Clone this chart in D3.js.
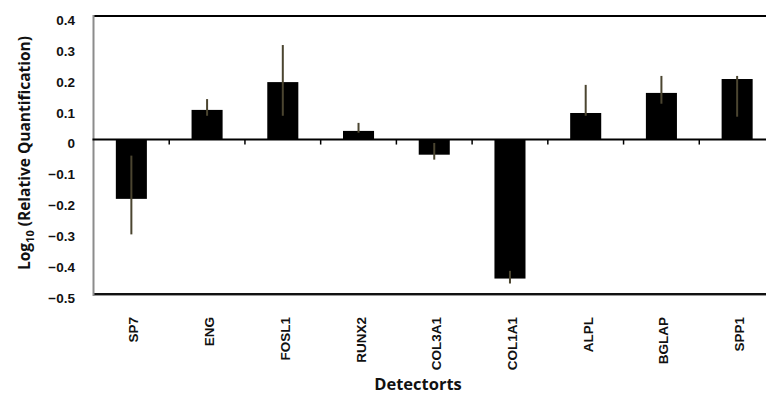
<!DOCTYPE html>
<html>
<head>
<meta charset="utf-8">
<script src="https://cdn.jsdelivr.net/npm/d3@7"></script>
<style>
  body { margin: 0; background: #fff; }
  svg { display: block; }
</style>
</head>
<body>
<div id="chart"></div>
<script>
// detector genes and log10 relative quantification
const genes = ["SP7", "ENG", "FOSL1", "RUNX2", "COL3A1", "COL1A1", "ALPL", "BGLAP", "SPP1"];
const values = [-0.192, 0.096, 0.186, 0.028, -0.049, -0.450, 0.086, 0.151, 0.196];
const errHigh = [-0.052, 0.131, 0.306, 0.054, -0.011, -0.425, 0.177, 0.206, 0.206];
const errLow = [-0.307, 0.077, 0.077, 0.022, -0.065, -0.466, 0.077, 0.116, 0.074];
const yTicks = [0.4, 0.3, 0.2, 0.1, 0, -0.1, -0.2, -0.3, -0.4, -0.5];

const width = 766, height = 396;
const plotLeft = 93.5, plotRight = 775, plotTop = 16, plotBottom = 294;

const svg = d3.select("#chart").append("svg")
  .attr("width", width)
  .attr("height", height);

const x = d3.scaleBand()
  .domain(genes)
  .range([plotLeft, plotRight])
  .paddingInner(0.59)
  .paddingOuter(0.295);

const y = d3.scaleLinear()
  .domain([-0.5, 0.4])
  .range([plotBottom, plotTop]);

// frame: top + bottom lines, gray left axis
svg.append("line")
  .attr("x1", plotLeft).attr("x2", width)
  .attr("y1", plotTop).attr("y2", plotTop)
  .attr("stroke", "#000").attr("stroke-width", 2);
svg.append("line")
  .attr("x1", plotLeft).attr("x2", width)
  .attr("y1", plotBottom + 1.5).attr("y2", plotBottom + 1.5)
  .attr("stroke", "#999").attr("stroke-width", 1);
svg.append("line")
  .attr("x1", plotLeft).attr("x2", width)
  .attr("y1", plotBottom).attr("y2", plotBottom)
  .attr("stroke", "#111").attr("stroke-width", 2);
svg.append("line")
  .attr("x1", plotLeft).attr("x2", plotLeft)
  .attr("y1", plotTop - 1).attr("y2", plotBottom + 2)
  .attr("stroke", "#8c8c8c").attr("stroke-width", 2);

// bars
svg.selectAll("rect.bar")
  .data(genes)
  .enter()
  .append("rect")
  .attr("class", "bar")
  .attr("x", d => x(d))
  .attr("width", x.bandwidth())
  .attr("y", (d, i) => y(Math.max(0, values[i])))
  .attr("height", (d, i) => Math.abs(y(values[i]) - y(0)))
  .attr("fill", "#000");

// error bars
svg.selectAll("line.err")
  .data(genes)
  .enter()
  .append("line")
  .attr("class", "err")
  .attr("x1", d => x(d) + x.bandwidth() / 2)
  .attr("x2", d => x(d) + x.bandwidth() / 2)
  .attr("y1", (d, i) => y(errHigh[i]))
  .attr("y2", (d, i) => y(errLow[i]))
  .attr("stroke", "#4b4530")
  .attr("stroke-width", 2);

// zero line with category ticks
svg.append("line")
  .attr("x1", plotLeft - 1).attr("x2", width)
  .attr("y1", y(0)).attr("y2", y(0))
  .attr("stroke", "#000").attr("stroke-width", 2);

const step = x.step();
svg.selectAll("line.tick")
  .data(genes.slice(1))
  .enter()
  .append("line")
  .attr("class", "tick")
  .attr("x1", d => x(d) - step * 0.295)
  .attr("x2", d => x(d) - step * 0.295)
  .attr("y1", y(0))
  .attr("y2", y(0) + 5)
  .attr("stroke", "#000").attr("stroke-width", 1.5);

// y tick labels (sit a little below their value, like the original)
svg.selectAll("text.ylab")
  .data(yTicks)
  .enter()
  .append("text")
  .attr("class", "ylab")
  .attr("x", 75)
  .attr("y", d => y(d) + 4)
  .attr("dy", "0.36em")
  .attr("text-anchor", "end")
  .style("font-family", "'Liberation Sans', Arial, sans-serif")
  .style("font-weight", "bold")
  .style("font-size", "13.5px")
  .style("fill", "#111")
  .text(d => d === 0 ? "0" : d3.format(".1f")(d));

// x tick labels, rotated
svg.selectAll("text.xlab")
  .data(genes)
  .enter()
  .append("text")
  .attr("class", "xlab")
  .attr("transform", d => "translate(" + (x(d) + x.bandwidth() / 2 + 7) + "," + 317 + ") rotate(-90)")
  .attr("text-anchor", "end")
  .style("font-family", "'Liberation Sans', Arial, sans-serif")
  .style("font-weight", "bold")
  .style("font-size", "13.5px")
  .style("fill", "#111")
  .text(d => d);

// axis titles
svg.append("text")
  .attr("x", 418)
  .attr("y", 390)
  .attr("text-anchor", "middle")
  .style("font-family", "'Open Sans', 'Noto Sans', sans-serif")
  .style("font-weight", "bold")
  .style("font-size", "16.5px")
  .style("fill", "#111")
  .text("Detectorts");

const yt = svg.append("text")
  .attr("transform", "translate(30," + 153 + ") rotate(-90)")
  .attr("text-anchor", "middle")
  .style("font-family", "'Open Sans', 'Noto Sans', sans-serif")
  .style("font-weight", "bold")
  .style("font-size", "15.5px")
  .style("fill", "#111");
yt.append("tspan").text("Log");
yt.append("tspan").attr("dy", 4).style("font-size", "11px").text("10");
yt.append("tspan").attr("dy", -4).text(" (Relative Quantification)");
</script>
</body>
</html>
